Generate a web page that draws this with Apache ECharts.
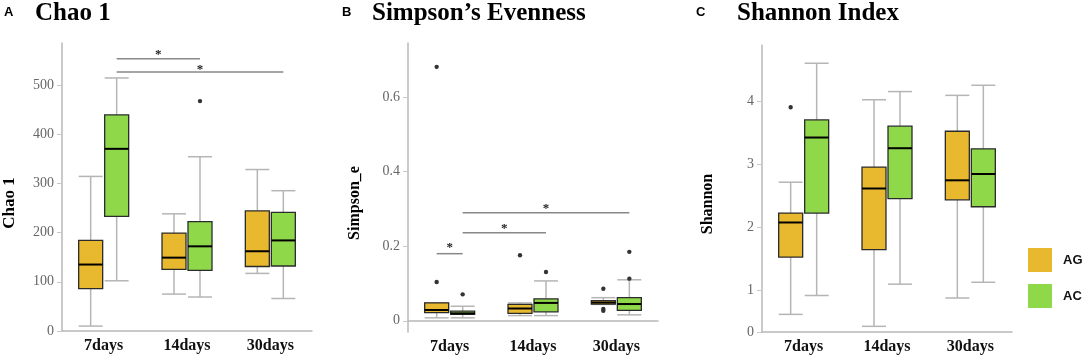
<!DOCTYPE html>
<html>
<head>
<meta charset="utf-8">
<script src="https://cdn.jsdelivr.net/npm/echarts@6/dist/echarts.min.js"></script>
<style>
  html, body { margin: 0; padding: 0; background: #fff; }
  #main { width: 1084px; height: 356px; }
</style>
</head>
<body>
<div id="main"></div>
<script>
const days = ['7days', '14days', '30days']
const groups = ['AG', 'AC']

// box values: [min, Q1, median, Q3, max]
const chaoAG = [[10, 86, 135, 184, 314], [75, 125, 149, 199, 238], [117, 131, 162, 244, 328]]
const chaoAC = [[102, 233, 370, 439, 514], [69, 123, 172, 222, 354], [66, 132, 184, 241, 285]]
const chaoOutAG = []
const chaoOutAC = [[1, 467]]
const chaoTicks = [0, 100, 200, 300, 400, 500]

const simpAG = [[0.008, 0.022, 0.029, 0.048, 0.048], [0.014, 0.020, 0.033, 0.044, 0.048], [0.044, 0.045, 0.049, 0.054, 0.062]]
const simpAC = [[0.008, 0.017, 0.020, 0.026, 0.039], [0.014, 0.024, 0.048, 0.059, 0.107], [0.016, 0.028, 0.045, 0.062, 0.110]]
const simpOutAG = [[0, 0.104], [0, 0.681], [1, 0.176], [2, 0.086], [2, 0.032], [2, 0.027]]
const simpOutAC = [[0, 0.071], [1, 0.131], [2, 0.113], [2, 0.185]]
const simpTicks = [0, 0.2, 0.4, 0.6]

const shanAG = [[0.62, 1.53, 2.08, 2.23, 2.72], [0.43, 1.65, 2.62, 2.96, 4.03], [0.88, 2.44, 2.75, 3.53, 4.10]]
const shanAC = [[0.92, 2.23, 3.43, 3.71, 4.61], [1.10, 2.46, 3.26, 3.61, 4.16], [1.13, 2.33, 2.85, 3.25, 4.26]]
const shanOutAG = [[0, 3.91]]
const shanOutAC = []
const shanTicks = [0.34, 1, 2, 3, 4]

// significance brackets: [fromDay, fromGroup(-1 AG / 1 AC), toDay, toGroup, lineY, starY]
const chaoSig = [[0, 1, 1, 1, 553, 567], [0, 1, 2, 1, 526, 536]]
const simpSig = [[0, -1, 0, 1, 0.18, 0.205], [0, 1, 1, 1, 0.236, 0.256], [0, 1, 2, 1, 0.29, 0.31]]

const COLORS = { AG: '#E8B92F', AC: '#8ED84A' }
const OFF = 13 // half distance between the two boxes
const BW = 24

const myChart = echarts.init(document.getElementById('main'))

function boxSeries(name, data, idx) {
  const side = name === 'AG' ? -1 : 1
  return {
    type: 'custom',
    name: name,
    xAxisIndex: idx,
    yAxisIndex: idx,
    itemStyle: { color: COLORS[name] },
    encode: { x: 0, y: [1, 2, 3, 4, 5] },
    data: data.map((d, i) => [i].concat(d)),
    renderItem: function (params, api) {
      const c = api.value(0)
      const pt = k => api.coord([c, api.value(k)])
      const x = pt(1)[0] + side * OFF
      const yMin = pt(1)[1], yQ1 = pt(2)[1], yMed = pt(3)[1], yQ3 = pt(4)[1], yMax = pt(5)[1]
      const wh = { stroke: '#b5b5b5', lineWidth: 1.5 }
      return {
        type: 'group',
        children: [
          { type: 'line', shape: { x1: x, y1: yMax, x2: x, y2: yQ3 }, style: wh },
          { type: 'line', shape: { x1: x, y1: yQ1, x2: x, y2: yMin }, style: wh },
          { type: 'line', shape: { x1: x - BW / 2, y1: yMax, x2: x + BW / 2, y2: yMax }, style: wh },
          { type: 'line', shape: { x1: x - BW / 2, y1: yMin, x2: x + BW / 2, y2: yMin }, style: wh },
          {
            type: 'rect',
            shape: { x: x - BW / 2, y: yQ3, width: BW, height: yQ1 - yQ3 },
            style: { fill: COLORS[name], stroke: '#2b2b2b', lineWidth: 1.3 }
          },
          { type: 'line', shape: { x1: x - BW / 2, y1: yMed, x2: x + BW / 2, y2: yMed }, style: { stroke: '#000', lineWidth: 2 } }
        ]
      }
    }
  }
}

function outSeries(name, data, idx) {
  const side = name === 'AG' ? -1 : 1
  return {
    type: 'custom',
    xAxisIndex: idx,
    yAxisIndex: idx,
    encode: { x: 0, y: 1 },
    data: data,
    renderItem: function (params, api) {
      const p = api.coord([api.value(0), api.value(1)])
      return { type: 'circle', shape: { cx: p[0] + side * OFF, cy: p[1], r: 2.2 }, style: { fill: '#333' } }
    }
  }
}

function sigSeries(data, idx) {
  return {
    type: 'custom',
    xAxisIndex: idx,
    yAxisIndex: idx,
    encode: { x: [0, 2], y: [4, 5] },
    data: data,
    renderItem: function (params, api) {
      const p1 = api.coord([api.value(0), api.value(4)])
      const p2 = api.coord([api.value(2), api.value(4)])
      const ps = api.coord([api.value(0), api.value(5)])
      const x1 = p1[0] + api.value(1) * OFF
      const x2 = p2[0] + api.value(3) * OFF
      return {
        type: 'group',
        children: [
          { type: 'line', shape: { x1: x1, y1: p1[1], x2: x2, y2: p1[1] }, style: { stroke: '#888', lineWidth: 1.5 } },
          {
            type: 'text',
            x: (x1 + x2) / 2,
            y: ps[1] + 3,
            style: { text: '*', font: 'bold 13px "Liberation Serif"', fill: '#222', align: 'center', verticalAlign: 'middle' }
          }
        ]
      }
    }
  }
}

const grids = [
  { left: 62, top: 43, width: 250, height: 288 },
  { left: 408, top: 43, width: 250, height: 289 },
  { left: 762, top: 45, width: 250, height: 287 }
]

const axisLineStyle = { color: '#b8b8b8', width: 1.5 }

function xAxisFor(i) {
  return {
    type: 'category',
    gridIndex: i,
    data: days,
    axisLine: { lineStyle: axisLineStyle },
    axisTick: { show: false },
    axisLabel: { color: '#111', fontFamily: 'Liberation Serif', fontWeight: 'bold', fontSize: 16, margin: 7 }
  }
}

function yAxisFor(i, min, max, ticks, fmt) {
  return {
    type: 'value',
    gridIndex: i,
    min: min,
    max: max,
    splitLine: { show: false },
    axisLine: { show: true, lineStyle: axisLineStyle },
    axisTick: { show: true, customValues: ticks, length: 5, lineStyle: { color: '#c8c8c8' } },
    axisLabel: { customValues: ticks, color: '#666', fontFamily: 'Liberation Serif', fontSize: 14, margin: 8, formatter: fmt }
  }
}

const titleFont = { fontFamily: 'Liberation Serif', fontWeight: 'bold', fontSize: 25, color: '#000' }
const letterFont = { fontFamily: 'Liberation Sans', fontWeight: 'bold', fontSize: 13, color: '#000' }
const nameFont = 'bold 16px "Liberation Serif"'

const option = {
  backgroundColor: '#fff',
  animation: false,
  title: [
    { text: 'A', left: 4, top: 6, padding: 0, textStyle: letterFont },
    { text: 'Chao 1', left: 35, top: 1, padding: 0, textStyle: titleFont },
    { text: 'B', left: 342, top: 6, padding: 0, textStyle: letterFont },
    { text: 'Simpson\u2019s Evenness', left: 372, top: 1, padding: 0, textStyle: titleFont },
    { text: 'C', left: 696, top: 6, padding: 0, textStyle: letterFont },
    { text: 'Shannon Index', left: 737, top: 1, padding: 0, textStyle: titleFont }
  ],
  legend: {
    data: groups,
    orient: 'vertical',
    left: 1028,
    top: 248,
    padding: 0,
    icon: 'rect',
    itemWidth: 24,
    itemHeight: 24,
    itemGap: 12,
    itemStyle: { borderWidth: 0 },
    textStyle: { fontFamily: 'Liberation Sans', fontWeight: 'bold', fontSize: 13, color: '#111', padding: [0, 0, 0, 6] }
  },
  graphic: [
    { type: 'text', x: 10, y: 203, rotation: Math.PI / 2, style: { text: 'Chao 1', font: 'bold 17px "Liberation Serif"', fill: '#000', align: 'center', verticalAlign: 'middle' } },
    { type: 'text', x: 355, y: 203, rotation: Math.PI / 2, style: { text: 'Simpson_e', font: nameFont, fill: '#000', align: 'center', verticalAlign: 'middle' } },
    { type: 'text', x: 708, y: 204, rotation: Math.PI / 2, style: { text: 'Shannon', font: nameFont, fill: '#000', align: 'center', verticalAlign: 'middle' } }
  ],
  grid: grids,
  xAxis: [xAxisFor(0), xAxisFor(1), xAxisFor(2)],
  yAxis: [
    yAxisFor(0, 0, 585, chaoTicks),
    yAxisFor(1, -0.03, 0.745, simpTicks),
    yAxisFor(2, 0.34, 4.9, shanTicks, v => (v < 0.5 ? '0' : String(v)))
  ],
  series: [
    boxSeries('AG', chaoAG, 0),
    boxSeries('AC', chaoAC, 0),
    outSeries('AG', chaoOutAG, 0),
    outSeries('AC', chaoOutAC, 0),
    sigSeries(chaoSig, 0),
    boxSeries('AG', simpAG, 1),
    boxSeries('AC', simpAC, 1),
    outSeries('AG', simpOutAG, 1),
    outSeries('AC', simpOutAC, 1),
    sigSeries(simpSig, 1),
    boxSeries('AG', shanAG, 2),
    boxSeries('AC', shanAC, 2),
    outSeries('AG', shanOutAG, 2),
    outSeries('AC', shanOutAC, 2)
  ]
}

myChart.setOption(option)
window.addEventListener('resize', function () {
  myChart.resize()
})
</script>
</body>
</html>
